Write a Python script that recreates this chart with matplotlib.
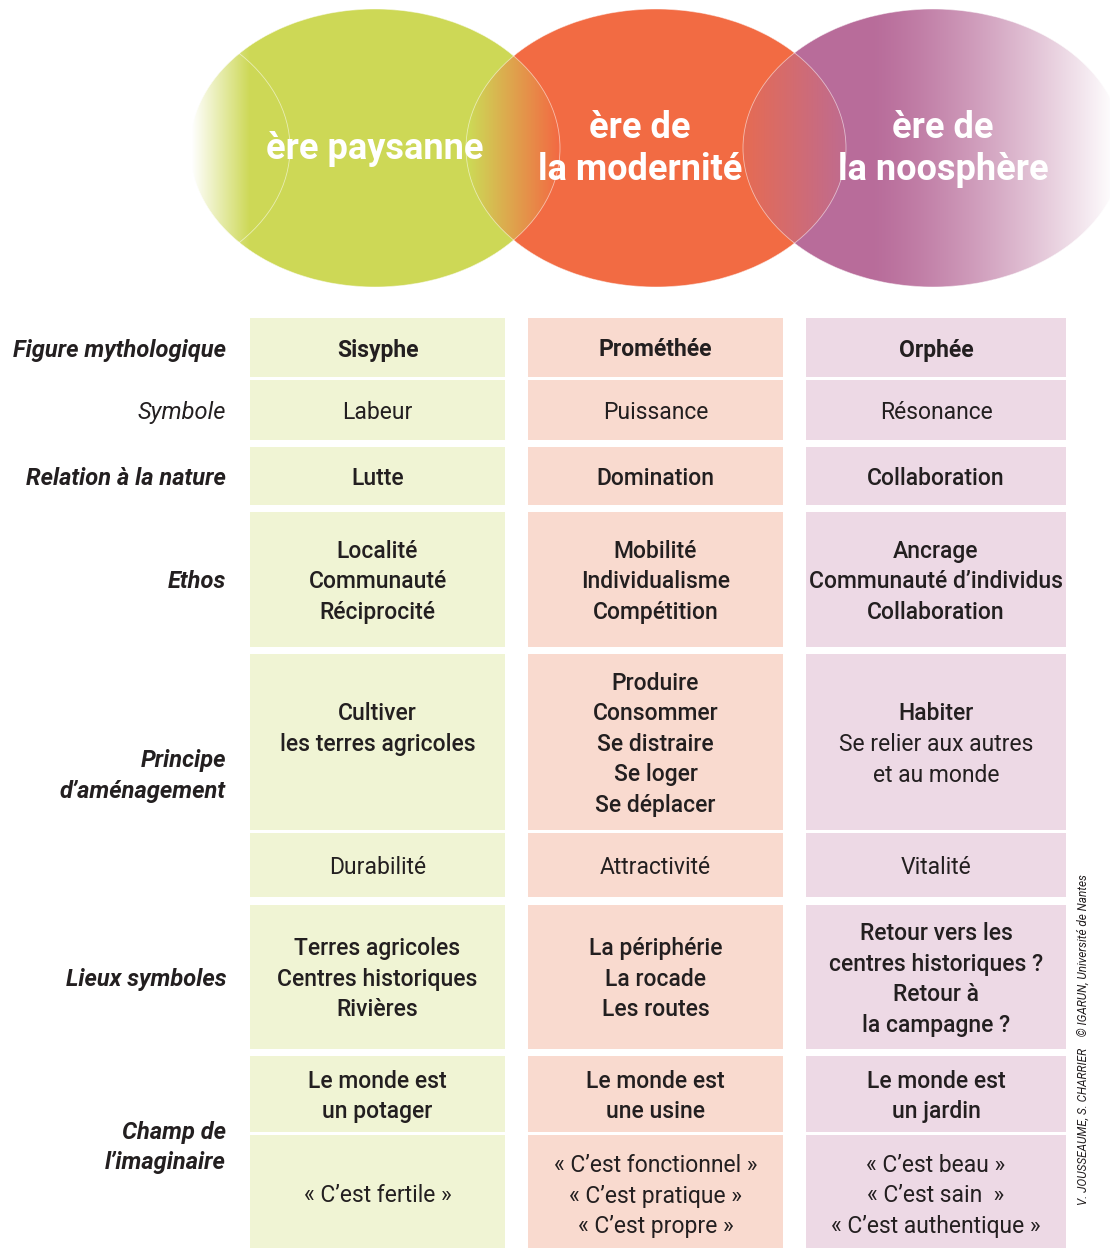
import numpy as np
import matplotlib
matplotlib.use("Agg")
import matplotlib.pyplot as plt
from matplotlib.patches import Ellipse, Rectangle

plt.rcParams['font.family'] = ['Roboto', 'DejaVu Sans']

# ---- data -------------------------------------------------------------
eras = ["ère paysanne", "ère de\nla modernité", "ère de\nla noosphère"]

row_labels = ["Figure mythologique", "Symbole", "Relation à la nature", "Ethos",
              "Principe\nd’aménagement", "Lieux symboles", "Champ de\nl’imaginaire"]
label_rows = [(0, 0), (1, 1), (2, 2), (3, 3), (4, 5), (6, 6), (7, 8)]
label_bold = [True, False, True, True, True, True, True]

cells = [
    [["Sisyphe"], ["Prométhée"], ["Orphée"]],
    [["Labeur"], ["Puissance"], ["Résonance"]],
    [["Lutte"], ["Domination"], ["Collaboration"]],
    [["Localité", "Communauté", "Réciprocité"],
     ["Mobilité", "Individualisme", "Compétition"],
     ["Ancrage", "Communauté d’individus", "Collaboration"]],
    [["Cultiver", "les terres agricoles", ""],
     ["Produire", "Consommer", "Se distraire", "Se loger", "Se déplacer"],
     ["Habiter", "Se relier aux autres", "et au monde"]],
    [["Durabilité"], ["Attractivité"], ["Vitalité"]],
    [["Terres agricoles", "Centres historiques", "Rivières"],
     ["La périphérie", "La rocade", "Les routes"],
     ["Retour vers les", "centres historiques ?", "Retour à", "la campagne ?"]],
    [["Le monde est", "un potager"], ["Le monde est", "une usine"], ["Le monde est", "un jardin"]],
    [["« C’est fertile »"],
     ["« C’est fonctionnel »", "« C’est pratique »", "« C’est propre »"],
     ["« C’est beau »", "« C’est sain  »", "« C’est authentique »"]],
]
row_weight = ["bold", "normal", "medium", "medium", "medium", "normal", "medium", "medium", "normal"]
weight_override = {(4, 2): ["medium", "normal", "normal"]}

credit = "V. JOUSSEAUME, S. CHARRIER    © IGARUN, Université de Nantes"

# ---- layout (pixels) --------------------------------------------------
W, H = 1110, 1248
row_top = [318, 380, 447, 512, 654, 833, 905, 1056, 1135]
row_bot = [377, 440, 505, 647, 830, 897, 1049, 1132, 1252]
col_left = [250, 528, 806]
col_right = [505, 783, 1066]
cell_colors = ["#f0f4d4", "#f9dacf", "#edd9e5"]
text_color = "#231f20"
line_step = 30.5
dy = 2.5  # small optical offset of text centres
label_dy = [0, 0, 0, 0, -2, 0, -9]

green = np.array([205, 216, 86]) / 255
orange = np.array([242, 107, 67]) / 255
purple = np.array([184, 108, 154]) / 255
op_left = np.array([229, 107, 84]) / 255
op_right = np.array([192, 107, 142]) / 255
white = np.ones(3)

# ellipses: (cx, cy, semi-x, semi-y); first one is the invisible "ghost"
ghost = (100, 148, 190, 139)
ell = [(375, 148, 185, 139), (656, 148, 190, 139), (933, 148, 190, 139)]

fig = plt.figure(figsize=(W / 100, H / 100), dpi=100)
ax = fig.add_axes([0, 0, 1, 1])
ax.set_xlim(0, W)
ax.set_ylim(H, 0)
ax.axis('off')

# ---- header ellipses as a shaded image ---------------------------------
x0, x1, y0, y1 = 150, W, 0, 300
xs = np.arange(x0, x1) + 0.5
ys = np.arange(y0, y1) + 0.5
X, Y = np.meshgrid(xs, ys)


def coverage(e):
    cx, cy, a, b = e
    f = np.sqrt(((X - cx) / a) ** 2 + ((Y - cy) / b) ** 2)
    return np.clip(0.5 - (f - 1) * 150, 0, 1)[..., None]


def mix(c1, c2, t):
    t = np.clip(t, 0, 1)[..., None]
    return c1 * (1 - t) + c2 * t


cg, co, cp = [coverage(e) for e in ell]
img = np.ones((len(ys), len(xs), 3))

green_col = mix(white, green, (X - 192) / 58)
img = img * (1 - cg) + green_col * cg

lens_go = mix(green, orange, (X - 470) / 88)
orange_col = lens_go * cg + orange * (1 - cg)
img = img * (1 - co) + orange_col * co

lens_op = mix(op_left, op_right, (X - 745) / 98)
purple_col = mix(purple, white, np.clip((X - 870) / 245, 0, 1) ** 1.3)
purple_col = lens_op * co + purple_col * (1 - co)
img = img * (1 - cp) + purple_col * cp

ax.imshow(img, extent=(x0, x1, y1, y0), origin='upper', interpolation='bilinear', zorder=1)

for cx, cy, a, b in [ghost] + ell:
    ax.add_patch(Ellipse((cx, cy), 2 * a, 2 * b, fill=False, edgecolor='white',
                         lw=0.6, alpha=0.55, zorder=2))

era_x = [375, 640, 943]
for name, x in zip(eras, era_x):
    lines = name.split("\n")
    n = len(lines)
    for i, ln in enumerate(lines):
        y = 148 + (i - (n - 1) / 2) * 41
        ax.text(x, y + 1, ln, color='white', fontsize=26, fontweight='bold',
                ha='center', va='center', zorder=3)

# ---- table ------------------------------------------------------------
for r in range(len(cells)):
    for c in range(3):
        ax.add_patch(Rectangle((col_left[c], row_top[r]), col_right[c] - col_left[c],
                               row_bot[r] - row_top[r], facecolor=cell_colors[c],
                               edgecolor='none', zorder=1))
        lines = cells[r][c]
        weights = weight_override.get((r, c), [row_weight[r]] * len(lines))
        yc = (row_top[r] + row_bot[r]) / 2 + dy
        xc = (col_left[c] + col_right[c]) / 2
        n = len(lines)
        for i, (ln, wt) in enumerate(zip(lines, weights)):
            ax.text(xc, yc + (i - (n - 1) / 2) * line_step, ln, color=text_color,
                    fontsize=16.5, fontweight=wt, ha='center', va='center', zorder=3)

for k, (lab, (r0, r1), bold) in enumerate(zip(row_labels, label_rows, label_bold)):
    lines = lab.split("\n")
    yc = (row_top[r0] + row_bot[r1]) / 2 + dy + label_dy[k]
    n = len(lines)
    for i, ln in enumerate(lines):
        ax.text(226, yc + (i - (n - 1) / 2) * line_step, ln, color=text_color,
                fontsize=17, fontweight='bold' if bold else 'normal',
                fontstyle='italic', ha='right', va='center', zorder=3)

ax.text(1083, 1205, credit, rotation=90, color=text_color, fontsize=8.5,
        fontstyle='italic', ha='left', va='center', rotation_mode='anchor', zorder=3)

fig.savefig("out.png", dpi=100)
